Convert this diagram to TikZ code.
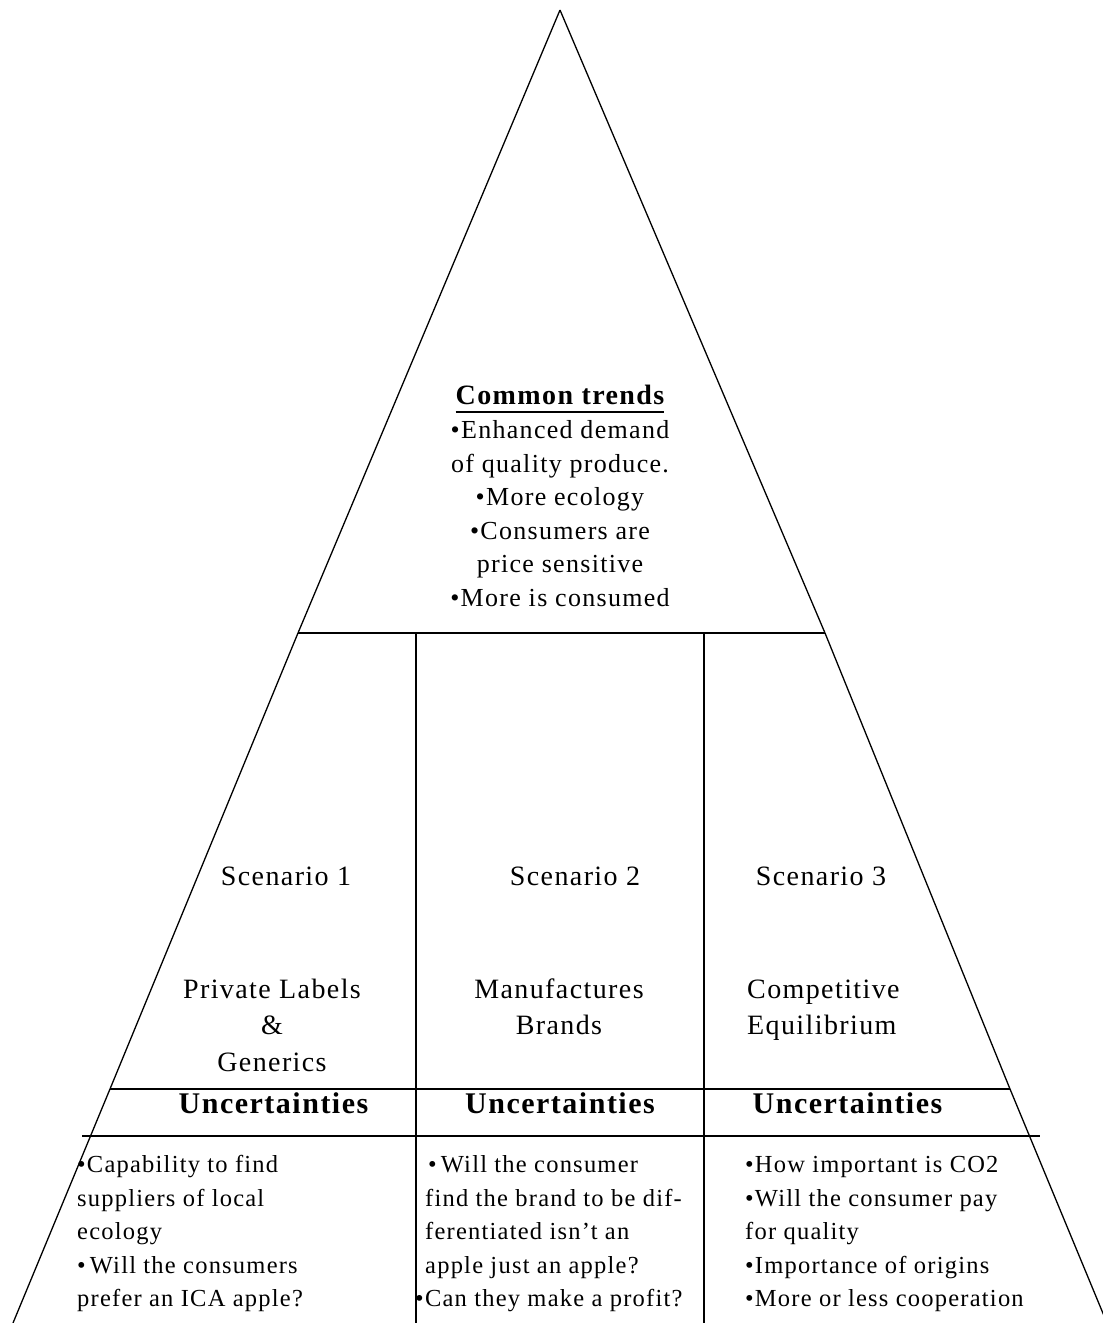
\documentclass[tikz,border=0pt]{standalone}
\usepackage{fontspec}
\setmainfont{Liberation Serif}[LetterSpace=5]
\begin{document}
\begin{tikzpicture}[x=1pt,y=-1pt,
  side/.style={line width=1.3pt},
  rule/.style={line width=1.5pt},
  titletext/.style={font=\bfseries\fontsize{28}{34}\selectfont, inner sep=0pt, anchor=base},
  trendtext/.style={font=\fontsize{26}{33.5}\selectfont, align=center, inner sep=0pt, anchor=north},
  scentext/.style={font=\fontsize{28}{36.5}\selectfont, inner sep=0pt},
  unctext/.style={font=\bfseries\fontsize{30}{36}\selectfont, inner sep=0pt, anchor=base},
  notetext/.style={font=\fontsize{24.5}{33.5}\selectfont, align=left, inner sep=0pt, anchor=north west}]
\useasboundingbox (0,0) rectangle (1103,1323);
\clip (0,0) rectangle (1103,1323);

% outline of the pyramid
\coordinate (apex) at (560,10);
\coordinate (l1) at (298,633);
\coordinate (l2) at (110,1089);
\coordinate (l3) at (13,1323);
\coordinate (r1) at (825,633);
\coordinate (r2) at (1010,1089);
\coordinate (r3) at (1107,1323);
\draw[side] (apex) -- (l1) -- (l2) -- (l3);
\draw[side] (apex) -- (r1) -- (r2) -- (r3);

% dividing lines
\coordinate (m1) at (416,633);
\coordinate (m2) at (704,633);
\coordinate (m1b) at (416,1323);
\coordinate (m2b) at (704,1323);
\coordinate (u1) at (82,1136);
\coordinate (u2) at (1040,1136);
\draw[rule] (l1) -- (r1);
\draw[rule] (m1) -- (m1b);
\draw[rule] (m2) -- (m2b);
\draw[rule] (l2) -- (r2);
\draw[rule] (u1) -- (u2);

% common trends
\node[titletext] (ct) at (560,404) {Common trends};
\draw[line width=1.4pt] ([yshift=-8pt]ct.base west) -- ([yshift=-8pt]ct.base east);
\node[trendtext] (trends) at (560,415) {\strut•Enhanced demand\\of quality produce.\\•More ecology\\•Consumers are\\price sensitive\\•More is consumed};

% scenarios
\node[scentext, anchor=base] (s1) at (286,885) {Scenario 1};
\node[scentext, anchor=base] (s2) at (575,885) {Scenario 2};
\node[scentext, anchor=base] (s3) at (821,885) {Scenario 3};
\node[scentext, anchor=north, align=center] (n1) at (272,972.5) {\strut Private Labels\\\&\\Generics};
\node[scentext, anchor=north, align=center] (n2) at (559,972.5) {\strut Manufactures\\Brands};
\node[scentext, anchor=north west, align=left] (n3) at (747,972.5) {\strut Competitive\\Equilibrium};

% uncertainties
\node[unctext] (h1) at (273.5,1113) {Uncertainties};
\node[unctext] (h2) at (560,1113) {Uncertainties};
\node[unctext] (h3) at (847.5,1113) {Uncertainties};

\node[notetext] (q1) at (77,1149) {\strut•Capability to find\\suppliers of local\\ecology\\•\,Will the consumers\\prefer an ICA apple?};
\node[notetext] (q2) at (425,1149) {\strut\hspace*{3pt}•\,Will the consumer\\find the brand to be dif-\\ferentiated isn’t an\\apple just an apple?\\\hspace*{-10pt}•Can they make a profit?};
\node[notetext] (q3) at (745,1149) {\strut•How important is CO2\\•Will the consumer pay\\for quality\\•Importance of origins\\•More or less cooperation};
\end{tikzpicture}
\end{document}
